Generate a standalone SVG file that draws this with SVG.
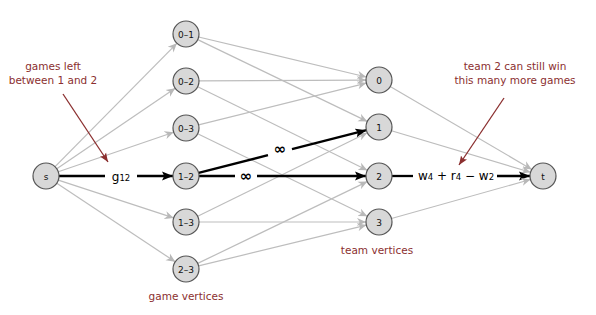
<svg xmlns="http://www.w3.org/2000/svg" width="596" height="315" viewBox="0 0 596 315">
<defs>
<marker id="ag" viewBox="0 0 10 10" refX="10" refY="5" markerWidth="9" markerHeight="9" markerUnits="userSpaceOnUse" orient="auto"><path d="M0,0.5 L10,5 L0,9.5 L3,5 Z" fill="#b8b8b8"/></marker>
<marker id="ab" viewBox="0 0 10 10" refX="10" refY="5" markerWidth="11" markerHeight="11" markerUnits="userSpaceOnUse" orient="auto"><path d="M0,1 L10,5 L0,9 L2,5 Z" fill="#000"/></marker>
<marker id="ar" viewBox="0 0 10 10" refX="10" refY="5" markerWidth="9" markerHeight="9" markerUnits="userSpaceOnUse" orient="auto"><path d="M0,1 L10,5 L0,9 L2,5 Z" fill="#8b2f2f"/></marker>
</defs>
<style>
.g{stroke:#bdbdbd;stroke-width:1.2;fill:none}
.ga{stroke:#bdbdbd;stroke-width:1.2;fill:none;marker-end:url(#ag)}
.b{stroke:#000;stroke-width:2.3;fill:none}
.ba{stroke:#000;stroke-width:2.3;fill:none;marker-end:url(#ab)}
.r{stroke:#8b2f2f;stroke-width:1.3;fill:none;marker-end:url(#ar)}
circle{fill:#d8d8d8;stroke:#555;stroke-width:1.2}
.n{font-family:"DejaVu Sans",sans-serif;font-size:9px;fill:#111;text-anchor:middle}
.lab{font-family:"DejaVu Sans",sans-serif;font-size:10.5px;fill:#8b2f2f;text-anchor:middle}
.e{font-family:"DejaVu Sans",sans-serif;font-size:12px;fill:#000;text-anchor:middle}
.inf{font-family:"DejaVu Sans",sans-serif;font-size:15px;fill:#000;text-anchor:middle;font-weight:bold}
</style>
<g id="connectors">
<line class="ga" x1="55.1" y1="166.7" x2="176.9" y2="43.3"/>
<line class="ga" x1="56.8" y1="168.7" x2="175.2" y2="88.3"/>
<line class="ga" x1="58.3" y1="171.8" x2="173.7" y2="132.2"/>
<line class="b" x1="59" y1="176" x2="105" y2="176"/>
<line class="ba" x1="137" y1="176" x2="173" y2="176"/>
<line class="ga" x1="58.3" y1="180.1" x2="173.7" y2="217.9"/>
<line class="ga" x1="56.8" y1="183.2" x2="175.2" y2="261.8"/>
<line class="ga" x1="198.6" y1="37" x2="366.4" y2="77"/>
<line class="ga" x1="197.7" y1="39.6" x2="367.3" y2="121.4"/>
<line class="ga" x1="199" y1="80.9" x2="366" y2="80.1"/>
<line class="ga" x1="197.7" y1="86.7" x2="367.3" y2="170.3"/>
<line class="ga" x1="198.6" y1="124.9" x2="366.4" y2="83.1"/>
<line class="ga" x1="197.7" y1="133.7" x2="367.3" y2="216.3"/>
<line class="ga" x1="197.7" y1="216.3" x2="367.3" y2="132.7"/>
<line class="ga" x1="199" y1="222" x2="366" y2="222"/>
<line class="ga" x1="197.7" y1="263.4" x2="367.3" y2="181.6"/>
<line class="ga" x1="198.6" y1="265.9" x2="366.4" y2="225.1"/>
<line class="b" x1="198.6" y1="172.8" x2="268" y2="155.2"/>
<line class="ba" x1="292" y1="149.1" x2="366.4" y2="130.2"/>
<line class="b" x1="199" y1="176" x2="235" y2="176"/>
<line class="ba" x1="257" y1="176" x2="366" y2="176"/>
<line class="ga" x1="390.2" y1="86.6" x2="531.8" y2="169.4"/>
<line class="ga" x1="391.5" y1="130.7" x2="530.5" y2="172.3"/>
<line class="b" x1="392" y1="176" x2="413" y2="176"/>
<line class="ba" x1="497" y1="176" x2="530" y2="176"/>
<line class="ga" x1="391.5" y1="218.5" x2="530.5" y2="179.5"/>
<line class="r" x1="63" y1="94" x2="108" y2="162"/>
<line class="r" x1="504" y1="98" x2="459" y2="165"/>
</g>
<g id="edge-labels">
<text class="e" x="121" y="180.5">g<tspan font-size="8.5px" dy="0.5">12</tspan></text>
<text class="inf" x="280" y="154">∞</text>
<text class="inf" x="246" y="181">∞</text>
<text class="e" x="456" y="180">w<tspan font-size="8.5px">4</tspan> + r<tspan font-size="8.5px">4</tspan> − w<tspan font-size="8.5px">2</tspan></text>
</g>
<g id="s"><circle cx="46" cy="176" r="13"/><text class="n" x="46" y="179.5">s</text></g>
<g id="g01"><circle cx="186" cy="34" r="13"/><text class="n" x="186" y="37.5">0–1</text></g>
<g id="g02"><circle cx="186" cy="81" r="13"/><text class="n" x="186" y="84.5">0–2</text></g>
<g id="g03"><circle cx="186" cy="128" r="13"/><text class="n" x="186" y="131.5">0–3</text></g>
<g id="g12"><circle cx="186" cy="176" r="13"/><text class="n" x="186" y="179.5">1–2</text></g>
<g id="g13"><circle cx="186" cy="222" r="13"/><text class="n" x="186" y="225.5">1–3</text></g>
<g id="g23"><circle cx="186" cy="269" r="13"/><text class="n" x="186" y="272.5">2–3</text></g>
<g id="t0"><circle cx="379" cy="80" r="13"/><text class="n" x="379" y="83.5">0</text></g>
<g id="t1"><circle cx="379" cy="127" r="13"/><text class="n" x="379" y="130.5">1</text></g>
<g id="t2"><circle cx="379" cy="176" r="13"/><text class="n" x="379" y="179.5">2</text></g>
<g id="t3"><circle cx="379" cy="222" r="13"/><text class="n" x="379" y="225.5">3</text></g>
<g id="t"><circle cx="543" cy="176" r="13"/><text class="n" x="543" y="179.5">t</text></g>
<g id="annotations">
<text class="lab" x="53" y="70">games left</text>
<text class="lab" x="53" y="84">between 1 and 2</text>
<text class="lab" x="515" y="70">team 2 can still win</text>
<text class="lab" x="515" y="84">this many more games</text>
<text class="lab" x="186" y="300">game vertices</text>
<text class="lab" x="377" y="254">team vertices</text>
</g>
</svg>
